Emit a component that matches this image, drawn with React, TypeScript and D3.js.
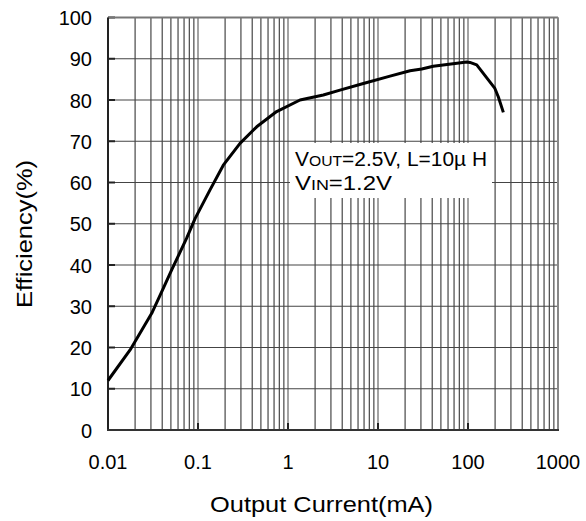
import React from "react";
import * as d3 from "d3";

const current = [0.01, 0.0176, 0.0306, 0.041, 0.051, 0.0748, 0.093, 0.136, 0.191, 0.293, 0.449, 0.748, 1.36, 2.47, 3.78, 6.87, 13.6, 22.7, 30.6, 41.1, 96.9, 105, 125, 199, 217, 247];
const efficiency = [12, 19.4, 28.3, 34.3, 38.8, 46.5, 51.3, 58.2, 64.2, 69.5, 73.5, 77.2, 80, 81.2, 82.4, 84.0, 85.8, 87.1, 87.5, 88.2, 89.2, 89.1, 88.5, 82.8, 80.8, 77.0];
const xTicks = [0.01, 0.1, 1, 10, 100, 1000];
const xTickLabels = ["0.01", "0.1", "1", "10", "100", "1000"];
const yTicks = [0, 10, 20, 30, 40, 50, 60, 70, 80, 90, 100];

const W = 586, H = 521;
const L = 108, R = 558, T = 17.5, B = 430;
const FONT = "'Liberation Sans', Arial, sans-serif";

export default function App() {
  const x = d3.scaleLog().domain([0.01, 1000]).range([L, R]);
  const y = d3.scaleLinear().domain([0, 100]).range([B, T]);
  const minor: number[] = [];
  for (let e = -2; e < 3; e++) {
    for (let m = 2; m <= 9; m++) minor.push(m * Math.pow(10, e));
  }
  const pts = current.map((c, i) => [c, efficiency[i]] as [number, number]);
  const line = d3.line<[number, number]>().x(d => x(d[0])).y(d => y(d[1])).curve(d3.curveLinear);

  return (
    <svg width={W} height={H} style={{ position: "absolute", left: 0, top: 0, background: "#fff" }} fontFamily={FONT}>
      <rect x={0} y={0} width={W} height={H} fill="#fff" />
      {minor.map((v, i) => (
        <line key={"m" + i} x1={x(v)} x2={x(v)} y1={T} y2={B} stroke="#222" strokeWidth={1} />
      ))}
      {xTicks.map((v, i) => (
        <line key={"M" + i} x1={x(v)} x2={x(v)} y1={T} y2={B} stroke="#666" strokeWidth={1.2} />
      ))}
      {yTicks.map((v, i) => (
        <line key={"h" + i} x1={L} x2={R} y1={y(v)} y2={y(v)} stroke="#444" strokeWidth={1.2} />
      ))}
      {yTicks.map((v, i) => (
        <line key={"yt" + i} x1={L} x2={L + 7} y1={y(v)} y2={y(v)} stroke="#222" strokeWidth={2} />
      ))}
      {xTicks.map((v, i) => (
        <line key={"xt" + i} x1={x(v)} x2={x(v)} y1={B} y2={B - 7} stroke="#222" strokeWidth={2} />
      ))}
      {/* border */}
      <line x1={L} x2={R} y1={T} y2={T} stroke="#777" strokeWidth={2} />
      <line x1={R} x2={R} y1={T} y2={B} stroke="#888" strokeWidth={2} />
      <line x1={L} x2={L} y1={T} y2={B + 1} stroke="#222" strokeWidth={2} />
      <line x1={L - 1} x2={R + 1} y1={B} y2={B} stroke="#333" strokeWidth={2} />
      {/* legend box */}
      <rect x={290} y={143} width={202} height={55} fill="#fff" />
      <text x={295} y={166} fontSize={20} fill="#000" textLength={192} lengthAdjust="spacingAndGlyphs">
        <tspan>V</tspan><tspan fontSize={15}>OUT</tspan><tspan>=2.5V, L=10µ H</tspan>
      </text>
      <text x={295} y={190} fontSize={20} fill="#000" textLength={97} lengthAdjust="spacingAndGlyphs">
        <tspan>V</tspan><tspan fontSize={15}>IN</tspan><tspan>=1.2V</tspan>
      </text>
      <path d={line(pts) || ""} fill="none" stroke="#000" strokeWidth={3} strokeLinejoin="round" />
      {yTicks.map((v, i) => (
        <text key={"yl" + i} x={92} y={y(v) + 7.5} fontSize={20} textAnchor="end" fill="#000">{v}</text>
      ))}
      {xTicks.map((v, i) => (
        <text key={"xl" + i} x={x(v)} y={469} fontSize={20} textAnchor="middle" fill="#000">{xTickLabels[i]}</text>
      ))}
      <text x={321.5} y={512} fontSize={22} textAnchor="middle" fill="#000" textLength={223} lengthAdjust="spacingAndGlyphs">Output Current(mA)</text>
      <text transform={`translate(31.5,234) rotate(-90)`} fontSize={22} textAnchor="middle" fill="#000" textLength={148} lengthAdjust="spacingAndGlyphs">Efficiency(%)</text>
    </svg>
  );
}
